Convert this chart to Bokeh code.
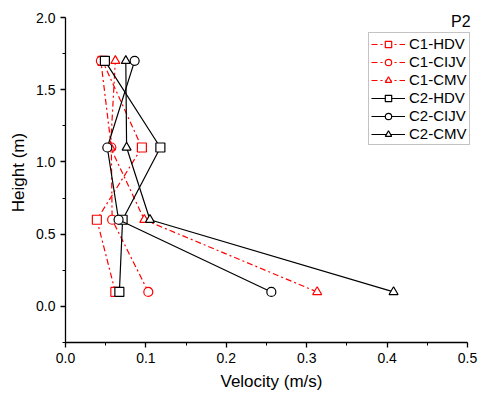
from bokeh.plotting import figure
from bokeh.models import Range1d, Legend, LegendItem, Label, FixedTicker, NumeralTickFormatter
from bokeh.embed import file_html
from bokeh.resources import INLINE

heights = [0.1, 0.6, 1.1, 1.7]
c1_hdv = [0.062, 0.039, 0.095, 0.046]
c1_cijv = [0.103, 0.058, 0.057, 0.044]
c1_cmv = [0.313, 0.098, 0.056, 0.062]
c2_hdv = [0.067, 0.071, 0.118, 0.049]
c2_cijv = [0.256, 0.066, 0.052, 0.086]
c2_cmv = [0.408, 0.105, 0.076, 0.075]

x_ticks = [0.0, 0.1, 0.2, 0.3, 0.4, 0.5]
x_minor = [0.05, 0.15, 0.25, 0.35, 0.45]
y_ticks = [0.0, 0.5, 1.0, 1.5, 2.0]
y_minor = [-0.25, 0.25, 0.75, 1.25, 1.75]

FONT = "Liberation Sans"

p = figure(width=481, height=398, output_backend="svg", toolbar_location=None,
           x_range=Range1d(0, 0.5124), y_range=Range1d(-0.25, 2.104),
           min_border_left=65, min_border_right=4, min_border_top=2, min_border_bottom=56)
p.outline_line_color = None
p.xgrid.visible = False
p.ygrid.visible = False
p.background_fill_color = "white"

for ax in (p.xaxis[0], p.yaxis[0]):
    ax.major_tick_in = 0
    ax.major_tick_out = 5
    ax.minor_tick_in = 0
    ax.minor_tick_out = 3
    ax.axis_line_color = "black"
    ax.axis_line_width = 1.3
    ax.major_tick_line_width = 1.3
    ax.minor_tick_line_width = 1
    ax.major_label_text_font = FONT
    ax.major_label_text_font_size = "14px"
    ax.major_label_text_color = "black"
    ax.axis_label_text_font = FONT
    ax.axis_label_text_font_size = "17px"
    ax.axis_label_text_font_style = "normal"
    ax.axis_label_text_color = "black"
    ax.formatter = NumeralTickFormatter(format="0.0")

p.xaxis[0].bounds = (0, 0.5)
p.yaxis[0].bounds = (-0.25, 2.0)
p.xaxis[0].ticker = FixedTicker(ticks=x_ticks, minor_ticks=x_minor)
p.yaxis[0].ticker = FixedTicker(ticks=y_ticks, minor_ticks=y_minor)
p.xaxis[0].axis_label = "Velocity (m/s)"
p.yaxis[0].axis_label = "Height (m)"
p.xaxis[0].axis_label_standoff = 6
p.yaxis[0].axis_label_standoff = 5

series = [
    ("C1-HDV", c1_hdv, "red", "6 3 2 3", "square"),
    ("C1-CIJV", c1_cijv, "red", "6 3 2 3", "circle"),
    ("C1-CMV", c1_cmv, "red", "6 3 2 3", "triangle"),
    ("C2-HDV", c2_hdv, "black", "solid", "square"),
    ("C2-CIJV", c2_cijv, "black", "solid", "circle"),
    ("C2-CMV", c2_cmv, "black", "solid", "triangle"),
]

items = []
for name, vals, color, dash, marker in series:
    l = p.line(vals, heights, line_color=color, line_dash=dash, line_width=1.2)
    m = p.scatter(vals, heights, marker=marker, size=9, line_color=color,
                  fill_color="white", line_width=1.2)
    items.append(LegendItem(label=name, renderers=[l, m]))

legend = Legend(items=items, location=(303, 197))
legend.label_text_font = FONT
legend.label_text_font_size = "15px"
legend.label_text_color = "black"
legend.border_line_color = "#888888"
legend.border_line_width = 1
legend.glyph_width = 34
legend.glyph_height = 16
legend.label_height = 16
legend.spacing = 1
legend.padding = 2
legend.margin = 0
legend.label_standoff = 4
legend.background_fill_alpha = 1
p.add_layout(legend, "center")

p.add_layout(Label(x=0.5, y=1.969, text="P2", text_align="right", text_baseline="middle",
                   x_offset=3, text_font=FONT, text_font_size="16px", text_color="black"))

open("out.html", "w").write(file_html(p, INLINE))
